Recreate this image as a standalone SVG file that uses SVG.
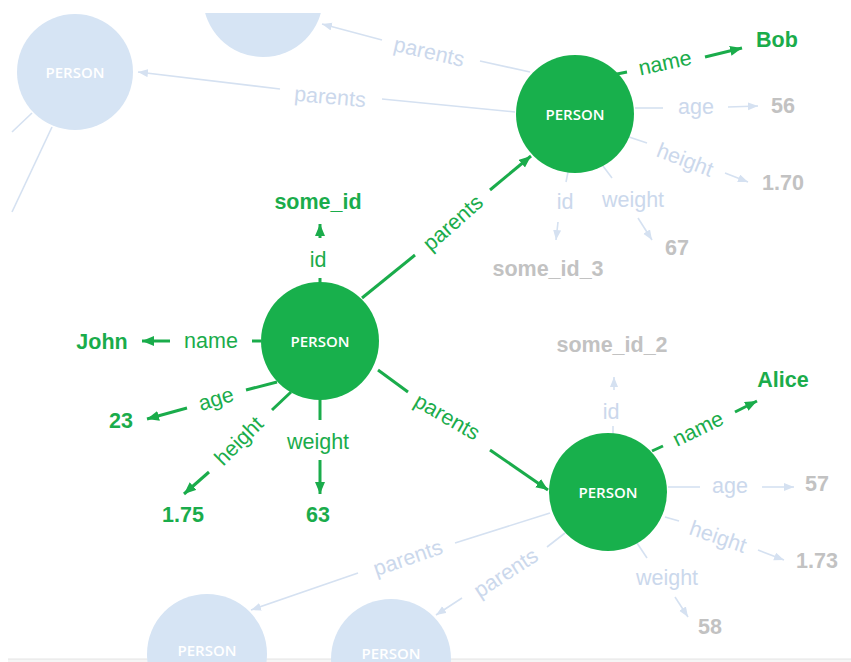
<svg xmlns="http://www.w3.org/2000/svg" width="851" height="662" viewBox="0 0 851 662">
<defs>
<style>
.lbl{font-family:"Liberation Sans",Arial,sans-serif;font-size:21.5px;text-anchor:middle;dominant-baseline:central}
.val{font-family:"Liberation Sans",Arial,sans-serif;font-size:21.5px;font-weight:bold;text-anchor:middle;dominant-baseline:central}
.g{fill:#1aac4b}
.fl{fill:#cbd8ec}
.fv{fill:#c2c2c2}
.node{fill:#18b04c}
.fnode{fill:#d6e4f4}
.ntxt{font-family:"Open Sans","Liberation Sans",sans-serif;font-size:15px;font-weight:600;fill:#ffffff;text-anchor:middle;dominant-baseline:central}
.ge{stroke:#1aac4b;stroke-width:3;fill:none}
.fe{stroke:#d5e1f1;stroke-width:1.6;fill:none}
</style>
<marker id="ag" markerUnits="userSpaceOnUse" markerWidth="13" markerHeight="11" refX="12" refY="5" orient="auto">
<path d="M0,0 L12,5 L0,10 z" fill="#1aac4b"/>
</marker>
<marker id="af" markerUnits="userSpaceOnUse" markerWidth="11" markerHeight="9" refX="10" refY="4" orient="auto">
<path d="M0,0 L10,4 L0,8 z" fill="#d5e1f1"/>
</marker>
<clipPath id="topclip"><rect x="0" y="13" width="851" height="649"/></clipPath>
</defs>
<rect width="851" height="662" fill="#ffffff"/>
<rect x="8" y="659" width="843" height="3" fill="#f5f5f5"/>
<line x1="8" y1="659" x2="851" y2="659" stroke="#e4e4e4" stroke-width="1"/>

<g id="connectors">
<!-- faded edges from Bob -->
<line class="fe" x1="530" y1="72" x2="480" y2="61"/>
<line class="fe" x1="382" y1="40" x2="322" y2="24" marker-end="url(#af)"/>
<text class="lbl fl" transform="translate(429,52) rotate(13)">parents</text>
<line class="fe" x1="515" y1="112" x2="382" y2="99"/>
<line class="fe" x1="280" y1="89" x2="138" y2="72" marker-end="url(#af)"/>
<text class="lbl fl" transform="translate(330,97) rotate(5)">parents</text>
<!-- left node extra edges -->
<line class="fe" x1="32" y1="113" x2="12" y2="132"/>
<line class="fe" x1="52" y1="127" x2="12" y2="212"/>

<!-- Bob attributes -->
<line class="ge" x1="617" y1="74" x2="627" y2="72"/>
<text class="lbl g" transform="translate(665,63) rotate(-12)">name</text>
<line class="ge" x1="705" y1="57" x2="742" y2="48" marker-end="url(#ag)"/>
<line class="fe" x1="635" y1="108" x2="663" y2="108"/>
<text class="lbl fl" x="696" y="107">age</text>
<line class="fe" x1="728" y1="107" x2="758" y2="106" marker-end="url(#af)"/>
<line class="fe" x1="629" y1="137" x2="647" y2="143"/>
<text class="lbl fl" transform="translate(685,160) rotate(21)">height</text>
<line class="fe" x1="725" y1="173" x2="748" y2="182" marker-end="url(#af)"/>
<line class="fe" x1="568" y1="172" x2="566" y2="182"/>
<text class="lbl fl" x="565" y="202">id</text>
<line class="fe" x1="558" y1="222" x2="556" y2="240" marker-end="url(#af)"/>
<line class="fe" x1="603" y1="166" x2="612" y2="178"/>
<text class="lbl fl" x="633" y="200">weight</text>
<line class="fe" x1="638" y1="218" x2="652" y2="240" marker-end="url(#af)"/>

<!-- John -> Bob -->
<line class="ge" x1="362" y1="298" x2="415" y2="255"/>
<text class="lbl g" transform="translate(453,223) rotate(-41.5)">parents</text>
<line class="ge" x1="490" y1="190" x2="531" y2="156" marker-end="url(#ag)"/>
<!-- John -> Alice -->
<line class="ge" x1="378" y1="370" x2="408" y2="392"/>
<text class="lbl g" transform="translate(447,417) rotate(30)">parents</text>
<line class="ge" x1="490" y1="450" x2="548" y2="490" marker-end="url(#ag)"/>

<!-- John attributes -->
<line class="ge" x1="320" y1="288" x2="320" y2="278"/>
<text class="lbl g" x="318" y="260">id</text>
<line class="ge" x1="320" y1="238" x2="320" y2="224" marker-end="url(#ag)"/>
<line class="ge" x1="261" y1="341" x2="252" y2="341"/>
<text class="lbl g" x="211" y="341">name</text>
<line class="ge" x1="170" y1="341" x2="142" y2="341" marker-end="url(#ag)"/>
<line class="ge" x1="277" y1="382" x2="246" y2="390"/>
<text class="lbl g" transform="translate(216,399) rotate(-17)">age</text>
<line class="ge" x1="187" y1="408" x2="147" y2="419" marker-end="url(#ag)"/>
<line class="ge" x1="291" y1="392" x2="272" y2="410"/>
<text class="lbl g" transform="translate(239,441) rotate(-45)">height</text>
<line class="ge" x1="209" y1="472" x2="184" y2="494" marker-end="url(#ag)"/>
<line class="ge" x1="320" y1="398" x2="320" y2="420"/>
<text class="lbl g" x="318" y="442">weight</text>
<line class="ge" x1="320" y1="460" x2="320" y2="494" marker-end="url(#ag)"/>

<!-- Alice attributes -->
<line class="ge" x1="652" y1="451" x2="663" y2="446"/>
<text class="lbl g" transform="translate(698,429) rotate(-26)">name</text>
<line class="ge" x1="735" y1="412" x2="757" y2="401" marker-end="url(#ag)"/>
<line class="fe" x1="613" y1="434" x2="613" y2="426"/>
<text class="lbl fl" x="611" y="412">id</text>
<line class="fe" x1="614" y1="390" x2="614" y2="377" marker-end="url(#af)"/>
<line class="fe" x1="668" y1="487" x2="700" y2="487"/>
<text class="lbl fl" x="730" y="486">age</text>
<line class="fe" x1="762" y1="487" x2="794" y2="487" marker-end="url(#af)"/>
<line class="fe" x1="665" y1="517" x2="679" y2="521"/>
<text class="lbl fl" transform="translate(718,537) rotate(19)">height</text>
<line class="fe" x1="758" y1="550" x2="784" y2="560" marker-end="url(#af)"/>
<line class="fe" x1="637" y1="543" x2="647" y2="558"/>
<text class="lbl fl" x="667" y="578">weight</text>
<line class="fe" x1="675" y1="597" x2="688" y2="617" marker-end="url(#af)"/>

<!-- Alice faded parents -->
<line class="fe" x1="550" y1="513" x2="455" y2="543"/>
<text class="lbl fl" transform="translate(408,558) rotate(-19)">parents</text>
<line class="fe" x1="358" y1="573" x2="251" y2="610" marker-end="url(#af)"/>
<line class="fe" x1="565" y1="533" x2="547" y2="547"/>
<text class="lbl fl" transform="translate(506,573) rotate(-33)">parents</text>
<line class="fe" x1="462" y1="598" x2="436" y2="615" marker-end="url(#af)"/>
</g>

<g id="values">
<text class="val g" x="777" y="40">Bob</text>
<text class="val fv" x="783" y="106">56</text>
<text class="val fv" x="783" y="183">1.70</text>
<text class="val fv" x="548" y="269">some_id_3</text>
<text class="val fv" x="677" y="248">67</text>
<text class="val g" x="318" y="202">some_id</text>
<text class="val g" x="102" y="342">John</text>
<text class="val g" x="121" y="421">23</text>
<text class="val g" x="183" y="515">1.75</text>
<text class="val g" x="318" y="515">63</text>
<text class="val g" x="783" y="380">Alice</text>
<text class="val fv" x="612" y="345">some_id_2</text>
<text class="val fv" x="817" y="484">57</text>
<text class="val fv" x="817" y="561">1.73</text>
<text class="val fv" x="710" y="627">58</text>
</g>

<g id="node-top" clip-path="url(#topclip)">
<circle class="fnode" cx="263" cy="-3" r="60"/>
</g>
<g id="node-left">
<circle class="fnode" cx="75" cy="72" r="58"/>
<text class="ntxt" x="75" y="72">PERSON</text>
</g>
<g id="node-bob">
<circle class="node" cx="575" cy="114" r="59"/>
<text class="ntxt" x="575" y="114">PERSON</text>
</g>
<g id="node-john">
<circle class="node" cx="320" cy="341" r="59"/>
<text class="ntxt" x="320" y="341">PERSON</text>
</g>
<g id="node-alice">
<circle class="node" cx="608" cy="492" r="59"/>
<text class="ntxt" x="608" y="492">PERSON</text>
</g>
<g id="node-bottom-left">
<circle class="fnode" cx="207" cy="654" r="60"/>
<text class="ntxt" x="207" y="650">PERSON</text>
</g>
<g id="node-bottom-mid">
<circle class="fnode" cx="391" cy="659" r="60"/>
<text class="ntxt" x="391" y="653">PERSON</text>
</g>
</svg>
